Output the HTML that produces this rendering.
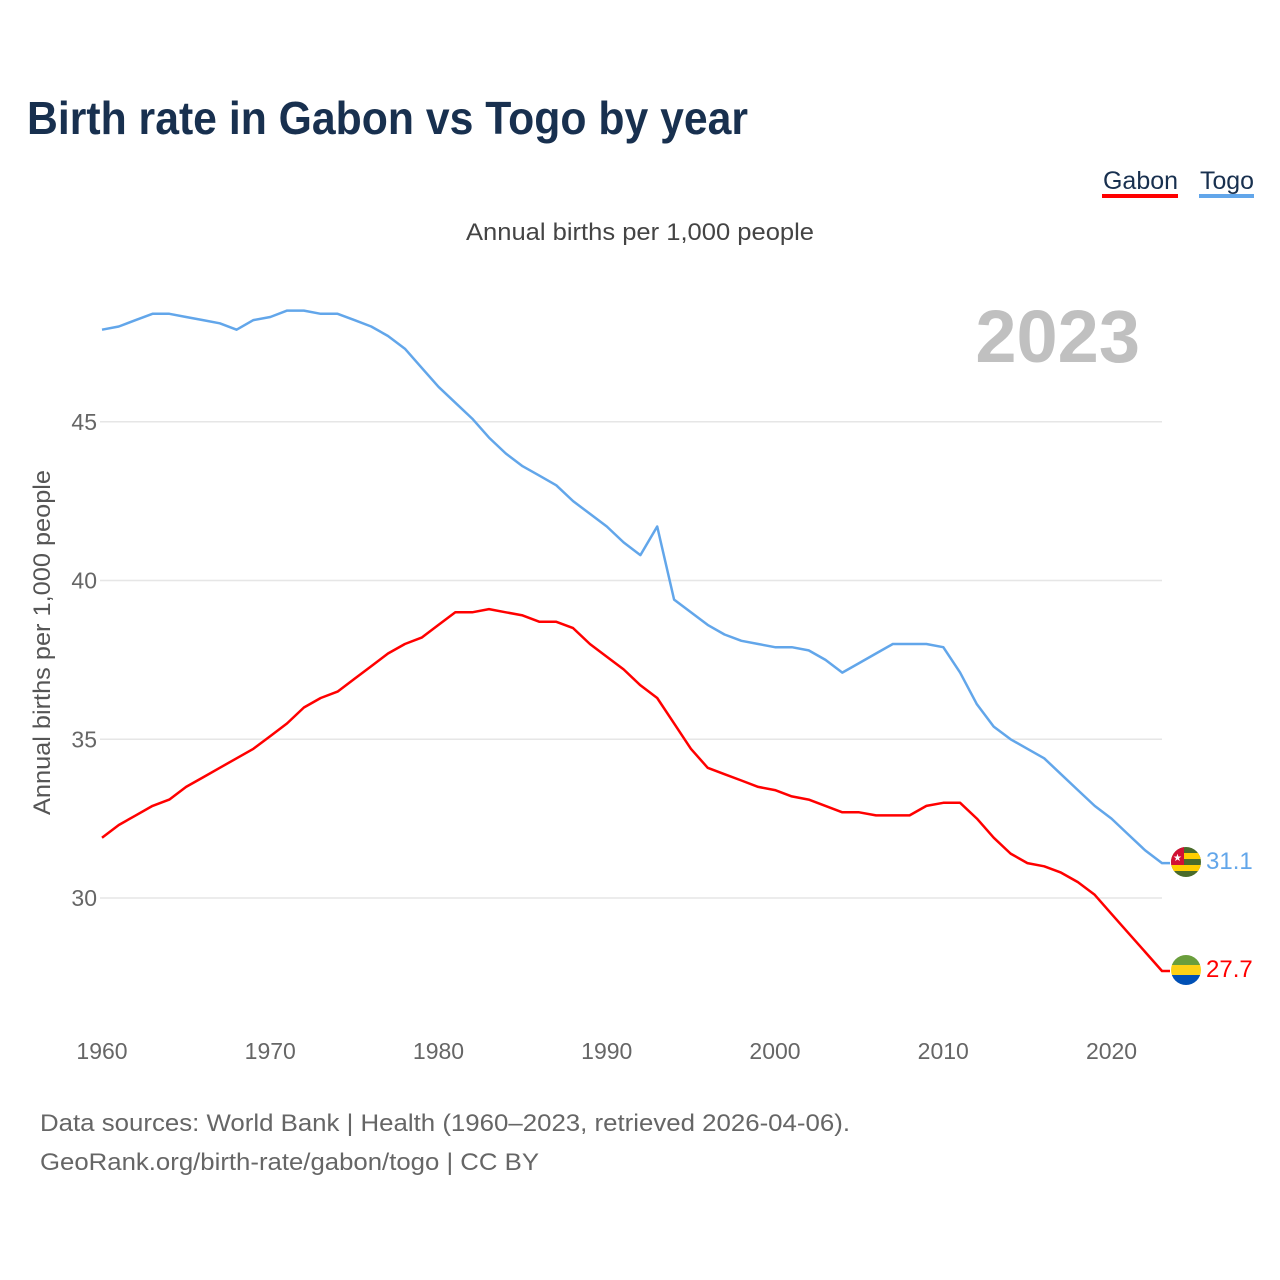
<!DOCTYPE html>
<html><head><meta charset="utf-8"><style>
html,body{margin:0;padding:0;background:#fff;}
svg{display:block;font-family:"Liberation Sans",sans-serif;}
</style></head><body>
<svg id="chart" width="1280" height="1280" viewBox="0 0 1280 1280">
<text x="27" y="134" font-size="46" font-weight="bold" fill="#18304f" textLength="721" lengthAdjust="spacingAndGlyphs">Birth rate in Gabon vs Togo by year</text>
<g>
<text x="1103" y="189" font-size="25" fill="#18304f" textLength="75" lengthAdjust="spacingAndGlyphs">Gabon</text>
<rect x="1102" y="194" width="76" height="4" fill="#ff0000"/>
</g>
<g>
<text x="1200" y="189" font-size="25" fill="#18304f" textLength="54" lengthAdjust="spacingAndGlyphs">Togo</text>
<rect x="1199" y="194" width="55" height="4" fill="#62a6ea"/>
</g>
<text x="466" y="240" font-size="24" fill="#444" textLength="348" lengthAdjust="spacingAndGlyphs">Annual births per 1,000 people</text>
<text x="1140" y="362" font-size="74" font-weight="bold" fill="#c0c0c0" text-anchor="end">2023</text>
<text transform="translate(50,815) rotate(-90)" font-size="24" fill="#555" textLength="345" lengthAdjust="spacingAndGlyphs">Annual births per 1,000 people</text>
<g id="grid"></g>
<g id="xticks"></g>
<g id="lines"></g>
<g>
<clipPath id="ct"><circle cx="1186" cy="862" r="15"/></clipPath>
<g clip-path="url(#ct)">
<rect x="1171" y="847" width="30" height="30" fill="#4a6b2a"/>
<rect x="1171" y="853" width="30" height="6" fill="#ffce00"/>
<rect x="1171" y="865" width="30" height="6" fill="#ffce00"/>
<rect x="1171" y="847" width="13" height="18" fill="#d21034"/>
<text x="1177.5" y="861" font-size="10" fill="#fff" text-anchor="middle">★</text>
</g></g>
<g>
<clipPath id="cg"><circle cx="1186" cy="970" r="15"/></clipPath>
<g clip-path="url(#cg)">
<rect x="1171" y="955" width="30" height="10" fill="#6a9e3c"/>
<rect x="1171" y="965" width="30" height="10" fill="#fcd116"/>
<rect x="1171" y="975" width="30" height="10" fill="#0050b5"/>
</g></g>
<text x="1206" y="869" font-size="24" fill="#62a6ea">31.1</text>
<text x="1206" y="977" font-size="24" fill="#ff0000">27.7</text>
<text x="40" y="1131" font-size="24" fill="#666" textLength="810" lengthAdjust="spacingAndGlyphs">Data sources: World Bank | Health (1960–2023, retrieved 2026-04-06).</text>
<text x="40" y="1170" font-size="24" fill="#666" textLength="499" lengthAdjust="spacingAndGlyphs">GeoRank.org/birth-rate/gabon/togo | CC BY</text>
</svg>
<script>
const years = [];
for (let y = 1960; y <= 2023; y++) years.push(y);
const togo = [47.9,48.0,48.2,48.4,48.4,48.3,48.2,48.1,47.9,48.2,48.3,48.5,48.5,48.4,48.4,48.2,48.0,47.7,47.3,46.7,46.1,45.6,45.1,44.5,44.0,43.6,43.3,43.0,42.5,42.1,41.7,41.2,40.8,41.7,39.4,39.0,38.6,38.3,38.1,38.0,37.9,37.9,37.8,37.5,37.1,37.4,37.7,38.0,38.0,38.0,37.9,37.1,36.1,35.4,35.0,34.7,34.4,33.9,33.4,32.9,32.5,32.0,31.5,31.1];
const gabon = [31.9,32.3,32.6,32.9,33.1,33.5,33.8,34.1,34.4,34.7,35.1,35.5,36.0,36.3,36.5,36.9,37.3,37.7,38.0,38.2,38.6,39.0,39.0,39.1,39.0,38.9,38.7,38.7,38.5,38.0,37.6,37.2,36.7,36.3,35.5,34.7,34.1,33.9,33.7,33.5,33.4,33.2,33.1,32.9,32.7,32.7,32.6,32.6,32.6,32.9,33.0,33.0,32.5,31.9,31.4,31.1,31.0,30.8,30.5,30.1,29.5,28.9,28.3,27.7];
const yTicks = [30,35,40,45];
const xTicks = [1960,1970,1980,1990,2000,2010,2020];
const NS = "http://www.w3.org/2000/svg";
const xS = v => 102 + (v - 1960) * (1060 / 63);
const yS = v => 898 - (v - 30) * 31.75;
const grid = document.getElementById('grid');
yTicks.forEach(t => {
  const l = document.createElementNS(NS, 'line');
  l.setAttribute('x1', 100); l.setAttribute('x2', 1162);
  l.setAttribute('y1', yS(t)); l.setAttribute('y2', yS(t));
  l.setAttribute('stroke', '#e6e6e6'); l.setAttribute('stroke-width', 1.5);
  
  
  grid.appendChild(l);
  const tx = document.createElementNS(NS, 'text');
  tx.setAttribute('x', 97); tx.setAttribute('y', yS(t) + 8);
  tx.setAttribute('text-anchor', 'end'); tx.setAttribute('font-size', 23); tx.setAttribute('fill', '#666');
  tx.textContent = t;
  
  
  grid.appendChild(tx);
});
const xg = document.getElementById('xticks');
xTicks.forEach(t => {
  const tx = document.createElementNS(NS, 'text');
  tx.setAttribute('x', xS(t)); tx.setAttribute('y', 1059);
  tx.setAttribute('text-anchor', 'middle'); tx.setAttribute('font-size', 23); tx.setAttribute('fill', '#666');
  tx.textContent = t;
  
  
  xg.appendChild(tx);
});
const lines = document.getElementById('lines');
function draw(vals, color, name) {
  const p = document.createElementNS(NS, 'polyline');
  const pts = vals.map((v, i) => xS(years[i]).toFixed(1) + ',' + yS(v).toFixed(1));
  pts.push((xS(2023) + 8).toFixed(1) + ',' + yS(vals[vals.length - 1]).toFixed(1));
  p.setAttribute('points', pts.join(' '));
  p.setAttribute('fill', 'none'); p.setAttribute('stroke', color); p.setAttribute('stroke-width', 2.5);
  p.setAttribute('stroke-linejoin', 'round');
  
  
  lines.appendChild(p);
}
draw(togo, '#62a6ea', 'togo-line');
draw(gabon, '#ff0000', 'gabon-line');
</script>
</body></html>
